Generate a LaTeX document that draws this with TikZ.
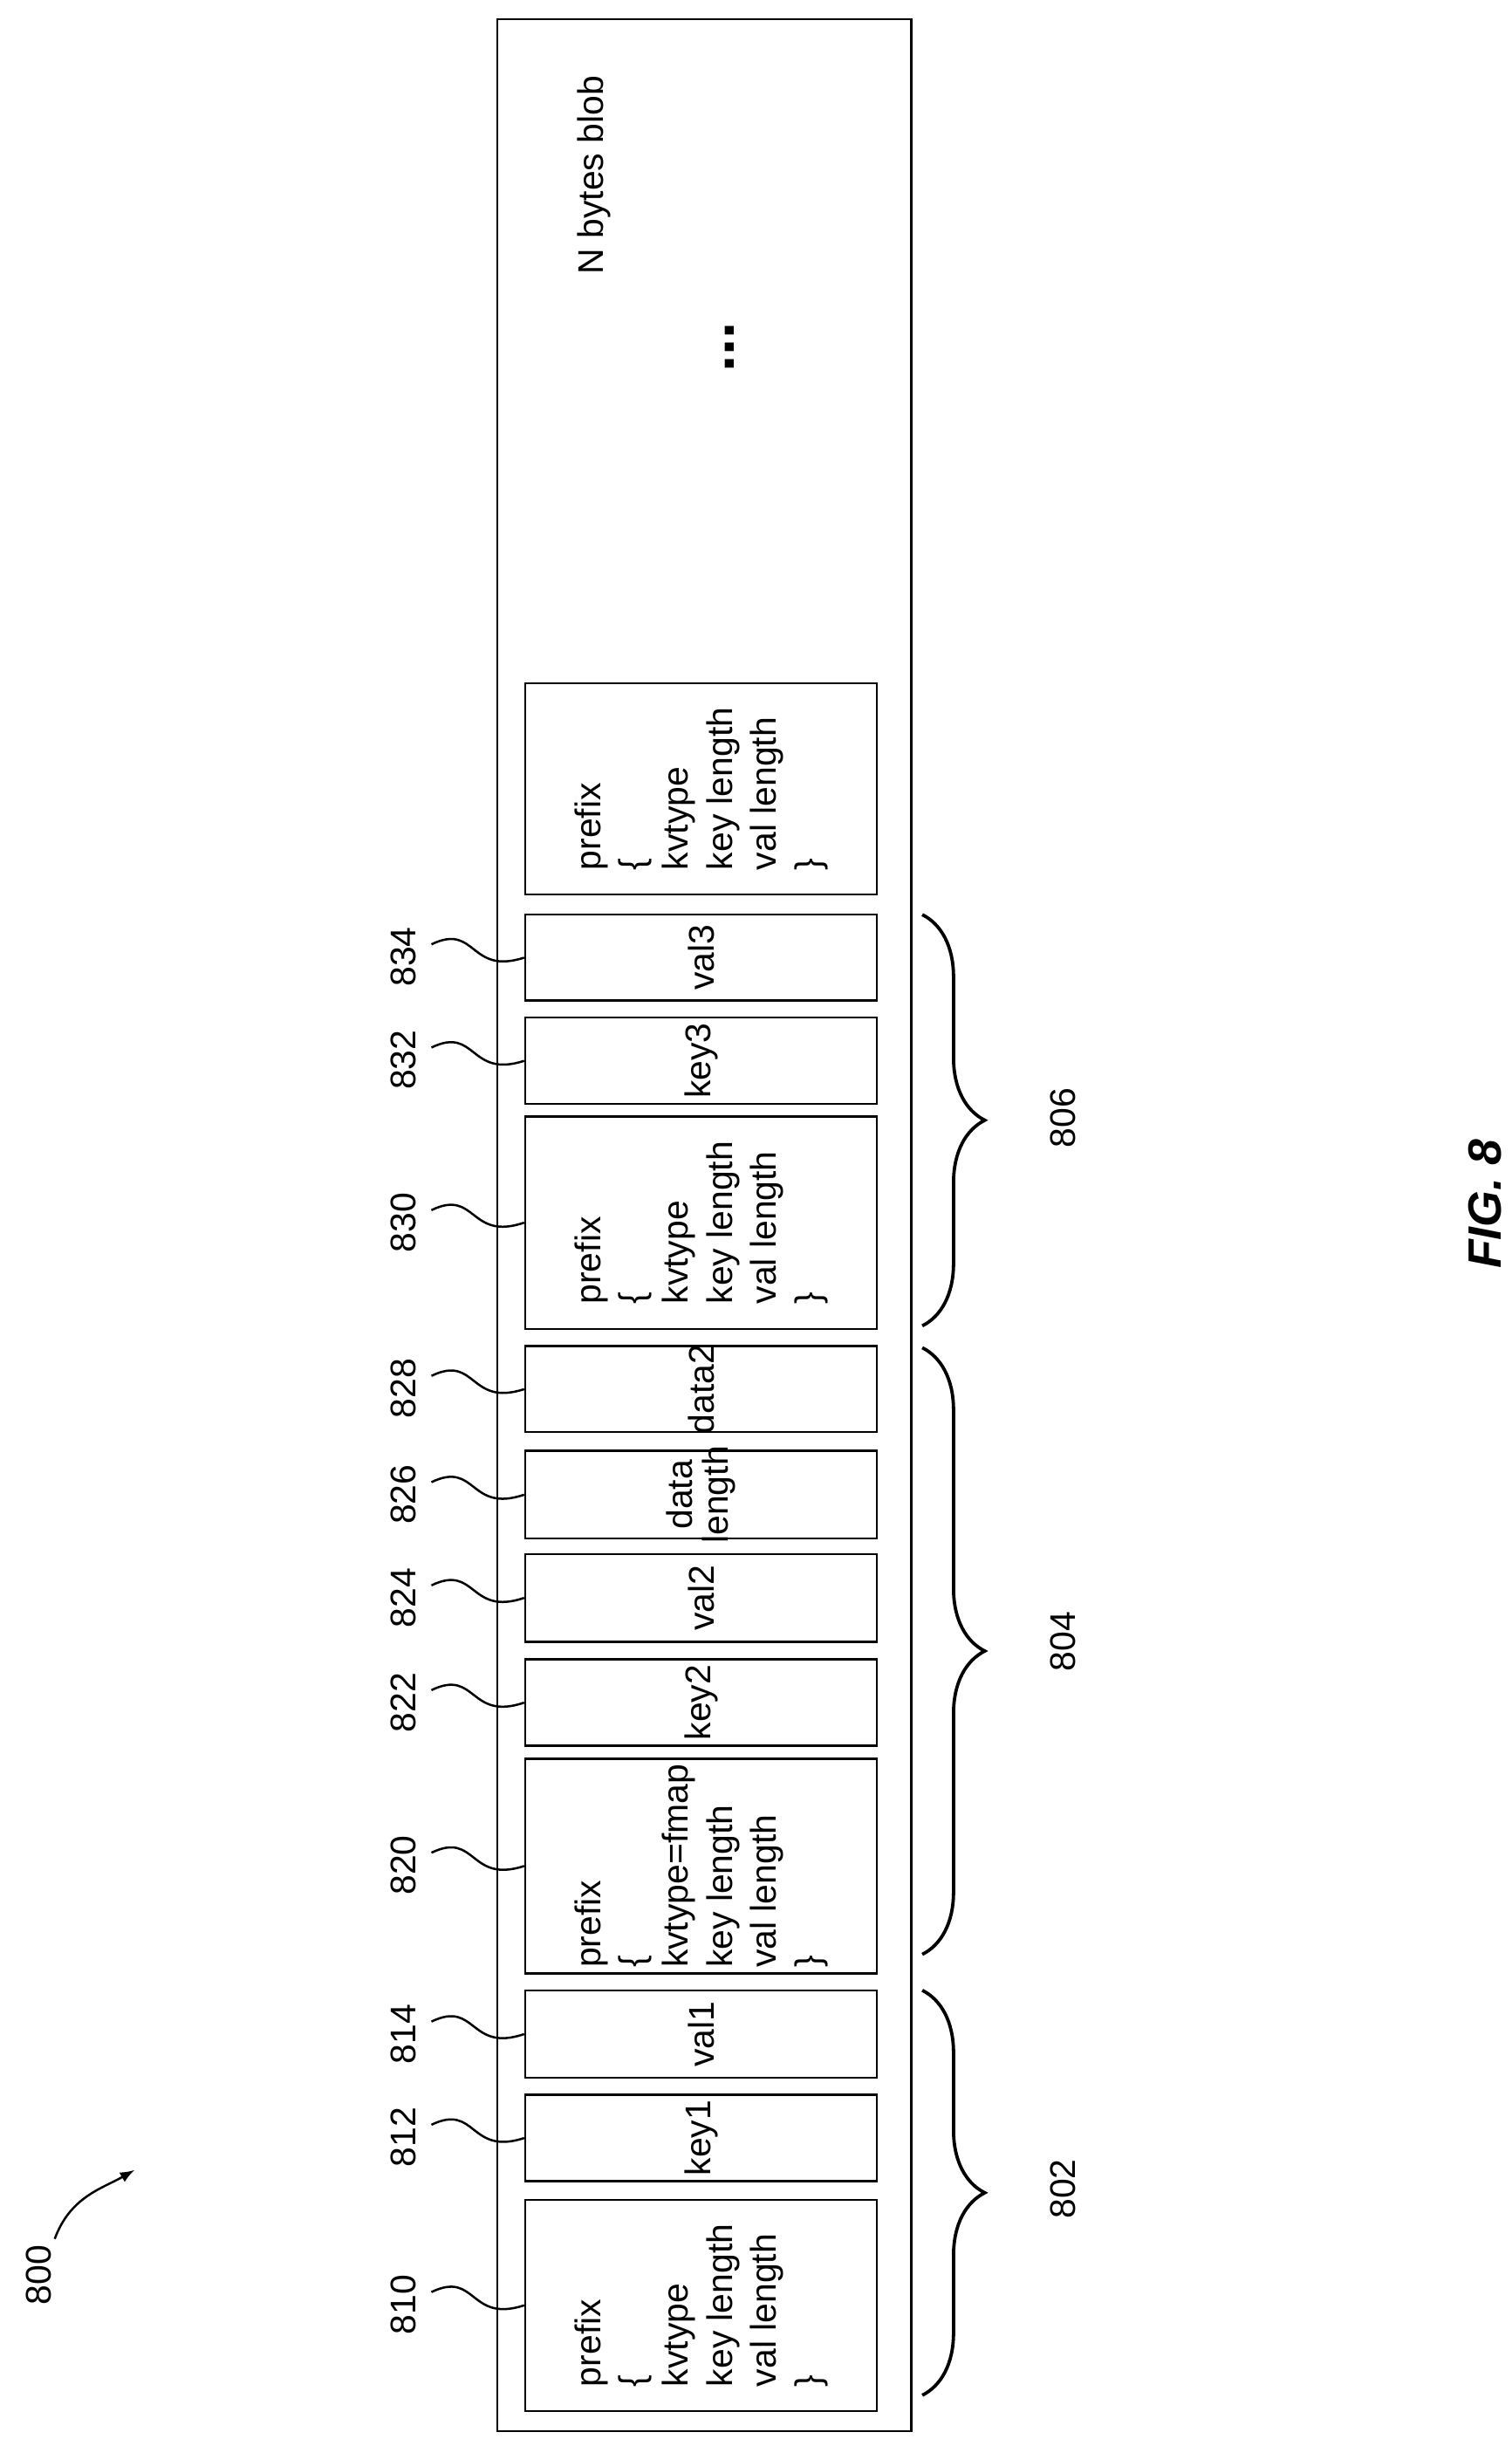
\documentclass[tikz,border=0pt]{standalone}
\usepackage{fontspec}
\setmainfont{Liberation Sans}
\usepackage{tikz}
\usetikzlibrary{decorations.pathreplacing}
\tikzset{field/.style={draw,thick,rotate=90,minimum height=4.5cm,inner sep=2pt,align=left,font=\fontsize{13}{16}\selectfont}}
\tikzset{refnum/.style={rotate=90,font=\fontsize{13}{16}\selectfont}}
\newcommand{\hdr}[1]{prefix\\\{\\#1\\key length\\val length\\\}}

\begin{document}
\begin{tikzpicture}[x=0.02cm,y=-0.02cm,
        leader/.style={thick},
        grp/.style={very thick,decorate,decoration={brace,amplitude=0.8cm,raise=0pt}},
    ]
    \useasboundingbox (0,0) rectangle (967,1560);

    % Outer blob
    \node [draw,thick,minimum width=5.3cm,minimum height=30.86cm] (blob) at (450.5,783.5) {};
    \node [refnum] (blobtxt) at (380,112) {N bytes blob};
    \node [font=\bfseries\fontsize{22}{22}\selectfont,rotate=90] (dots) at (467,222) {...};

    % Fields named f#
    \node [field,minimum width=2.7cm] (f810) at (448.5,1474.5) {\hdr{kvtype}};
    \node [field,minimum width=1.1cm] (f812) at (448.5,1367.5) {key1};
    \node [field,minimum width=1.12cm] (f814) at (448.5,1301) {val1};
    \node [field,minimum width=2.7cm] (f820) at (448.5,1193.5) {\hdr{kvtype=fmap}};
    \node [field,minimum width=1.08cm] (f822) at (448.5,1089) {key2};
    \node [field,minimum width=1.12cm] (f824) at (448.5,1022) {val2};
    \node [field,minimum width=1.12cm] (f826) at (448.5,956) {};
    \node [refnum,align=center,font=\fontsize{13}{13}\selectfont] (t826) at (f826) {data\\length};
    \node [field,minimum width=1.1cm] (f828) at (448.5,888.5) {};
    \node [refnum] (t828) at (f828) {data2};
    \node [field,minimum width=2.72cm] (f830) at (448.5,782) {\hdr{kvtype}};
    \node [field,minimum width=1.1cm] (f832) at (448.5,678.5) {key3};
    \node [field,minimum width=1.1cm] (f834) at (448.5,612.5) {val3};
    \node [field,minimum width=2.7cm] (f840) at (448.5,504.5) {\hdr{kvtype}};

    % Reference numbers with leaders
    \foreach \n/\y in {810/1474,812/1367,814/1301,820/1193,822/1089,824/1022,826/956,828/888,830/782,832/678,834/612}{
        \node [refnum] (r\n) at (258,\y) {\n};
        \draw [leader] (276,\y-8) .. controls (305,\y-22) and (300,\y+12) .. (f\n.north);
    }

    % Braces
    \draw [grp] (590,1273) -- (590,1532) coordinate (b802);
    \draw [grp] (590,862) -- (590,1250) coordinate (b804);
    \draw [grp] (590,585) -- (590,848) coordinate (b806);
    \node [refnum] (l802) at (680,1400) {802};
    \node [refnum] (l804) at (680,1050) {804};
    \node [refnum] (l806) at (680,715) {806};

    % Figure number
    \node [refnum] (l800) at (25,1455) {800};
    \coordinate (a800) at (35,1432);
    \draw [thick,-latex] (a800) .. controls (45,1405) and (65,1400) .. (86,1388);
    \node [rotate=90,font=\bfseries\itshape\fontsize{17}{17}\selectfont] (fig) at (950,770) {FIG. 8};
\end{tikzpicture}
\end{document}
